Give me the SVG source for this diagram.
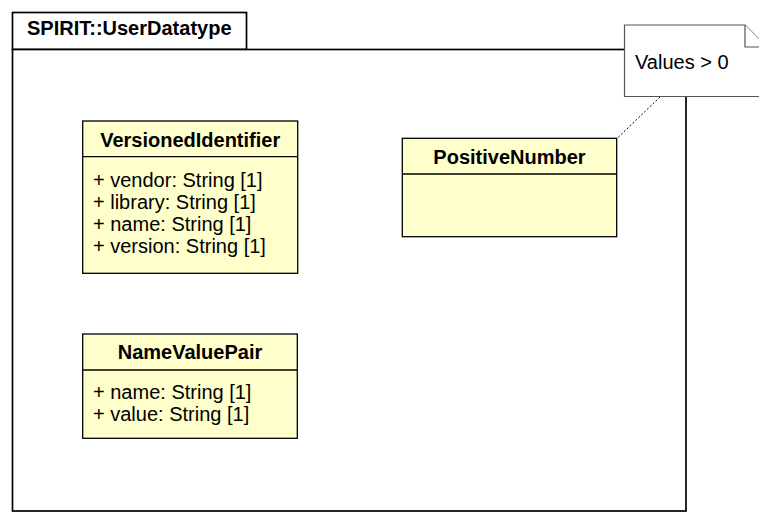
<svg xmlns="http://www.w3.org/2000/svg" width="759" height="514" viewBox="0 0 759 514">
<style>
text{font-family:"Liberation Sans",Arial,sans-serif;font-size:20px;fill:#000}
.t{font-weight:bold;text-anchor:middle}
.b{font-weight:bold}
.cls{fill:#FFFFCC;stroke:#000;stroke-width:1.3}
.pkg{fill:#fff;stroke:#000;stroke-width:1.7}
.note{fill:#fff;stroke:#555;stroke-width:1.2}
</style>
<g id="package">
<rect class="pkg" x="12.5" y="12.5" width="234" height="37"/>
<rect class="pkg" x="12.5" y="49.5" width="673.5" height="461.5"/>
<text class="b" x="27" y="35">SPIRIT::UserDatatype</text>
</g>
<g id="connectors">
<line x1="660" y1="97" x2="617" y2="138.5" stroke="#000" stroke-width="1" stroke-dasharray="2,2"/>
</g>
<g id="note">
<path class="note" d="M624.5,25 H745 L767,47 V96.5 H624.5 Z"/>
<path class="note" fill="none" d="M745,25 V47 H767"/>
<text x="635" y="69">Values &gt; 0</text>
</g>
<g id="VersionedIdentifier">
<rect class="cls" x="82.7" y="121" width="215" height="152.3"/>
<line x1="82.7" y1="156.7" x2="297.7" y2="156.7" stroke="#000" stroke-width="1.3"/>
<text class="t" x="190.2" y="146.5">VersionedIdentifier</text>
<text x="93" y="187">+ vendor: String [1]</text>
<text x="93" y="209">+ library: String [1]</text>
<text x="93" y="231">+ name: String [1]</text>
<text x="93" y="253">+ version: String [1]</text>
</g>
<g id="PositiveNumber">
<rect class="cls" x="402.3" y="138.3" width="214.4" height="98.4"/>
<line x1="402.3" y1="174" x2="616.7" y2="174" stroke="#000" stroke-width="1.3"/>
<text class="t" x="509.5" y="164">PositiveNumber</text>
</g>
<g id="NameValuePair">
<rect class="cls" x="82.7" y="334" width="214.6" height="104.3"/>
<line x1="82.7" y1="370" x2="297.3" y2="370" stroke="#000" stroke-width="1.3"/>
<text class="t" x="190" y="359">NameValuePair</text>
<text x="93" y="399">+ name: String [1]</text>
<text x="93" y="421">+ value: String [1]</text>
</g>
</svg>
